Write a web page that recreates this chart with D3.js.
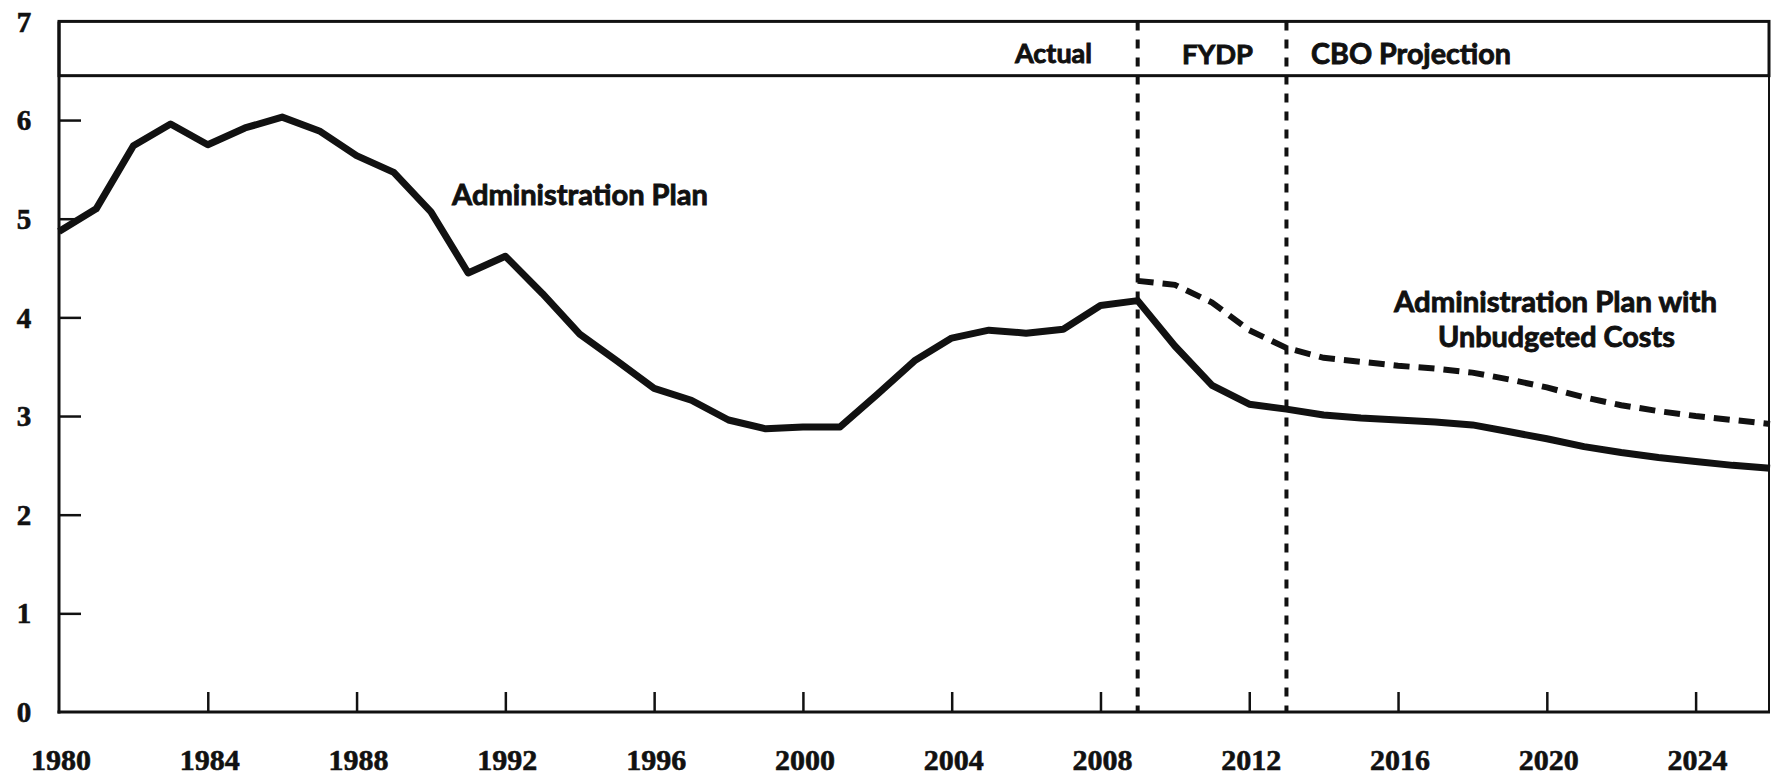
<!DOCTYPE html>
<html>
<head>
<meta charset="utf-8">
<script src="https://cdn.jsdelivr.net/npm/d3@7"></script>
<style>
  html, body { margin: 0; padding: 0; background: #fff; }
  svg { display: block; }
</style>
</head>
<body>
<svg id="chart" width="1772" height="775"></svg>
<script>
// ---------------- DATA ----------------
const years = d3.range(1980, 2027);
const adminPlan = [
  4.87, 5.10, 5.74, 5.96, 5.75, 5.92, 6.03, 5.89, 5.64, 5.47,
  5.07, 4.45, 4.62, 4.24, 3.83, 3.56, 3.28, 3.16, 2.96, 2.87,
  2.89, 2.89, 3.22, 3.56, 3.79, 3.87, 3.84, 3.88, 4.12, 4.17,
  3.71, 3.31, 3.12, 3.07, 3.01, 2.98, 2.96, 2.94, 2.91, 2.84,
  2.77, 2.69, 2.63, 2.58, 2.54, 2.50, 2.47
];
const unbudgetedYears = d3.range(2009, 2027);
const adminPlanUnbudgeted = [
  4.37, 4.33, 4.15, 3.87, 3.69, 3.59, 3.55, 3.51, 3.48, 3.44,
  3.37, 3.29, 3.19, 3.11, 3.05, 3.00, 2.96, 2.92
];
const xTickYears = [1980, 1984, 1988, 1992, 1996, 2000, 2004, 2008, 2012, 2016, 2020, 2024];
const yTickValues = [0, 1, 2, 3, 4, 5, 6, 7];
const periodBreaks = [2009, 2013];
const periodLabels = ["Actual", "FYDP", "CBO Projection"];
const bandBottomValue = 6.45;

// ---------------- LAYOUT ----------------
const svg = d3.select("#chart");
const x = d3.scaleLinear().domain([1980, 2026]).range([59, 1770]);
const y = d3.scaleLinear().domain([0, 7]).range([712, 21.4]);
const ink = "#111";
const numFont = "'Liberation Serif', 'DejaVu Serif', serif";
const labFont = "Lato, 'Open Sans', 'DejaVu Sans', sans-serif";

function fit(sel, target) {
  const w = sel.node().getComputedTextLength();
  const fs = parseFloat(sel.attr("font-size"));
  sel.attr("font-size", (fs * target / w).toFixed(2));
}

// header band
svg.append("rect")
  .attr("x", x(1980)).attr("y", y(7))
  .attr("width", x(2026) - x(1980) - 1)
  .attr("height", y(bandBottomValue) - y(7))
  .attr("fill", "none").attr("stroke", ink).attr("stroke-width", 3);

// right frame
svg.append("line")
  .attr("x1", x(2026) - 1).attr("x2", x(2026) - 1)
  .attr("y1", y(7)).attr("y2", y(0))
  .attr("stroke", ink).attr("stroke-width", 2);

// y axis
const yAxis = d3.axisRight(y).tickValues(yTickValues.filter(v => v > 0 && v < 7))
  .tickSize(22).tickFormat("");
const gy = svg.append("g").attr("transform", `translate(${x(1980)},0)`).call(yAxis);
gy.select(".domain").remove();
gy.selectAll(".tick line").attr("stroke", ink).attr("stroke-width", 2.5);

svg.append("line")
  .attr("x1", x(1980)).attr("x2", x(1980))
  .attr("y1", y(7)).attr("y2", y(0) + 1.5)
  .attr("stroke", ink).attr("stroke-width", 3);

svg.selectAll("text.ylab").data(yTickValues).join("text")
  .attr("class", "ylab")
  .attr("x", 24).attr("y", d => y(d))
  .attr("dy", "0.35em")
  .attr("text-anchor", "middle")
  .attr("font-family", numFont).attr("font-weight", "bold")
  .attr("font-size", 29).attr("fill", ink)
  .attr("stroke", ink).attr("stroke-width", 0.6)
  .text(d => d);

// x axis
const xAxis = d3.axisTop(x).tickValues(xTickYears.filter(v => v > 1980))
  .tickSize(20).tickFormat("");
const gx = svg.append("g").attr("transform", `translate(0,${y(0)})`).call(xAxis);
gx.select(".domain").remove();
gx.selectAll(".tick line").attr("stroke", ink).attr("stroke-width", 2.5);

svg.append("line")
  .attr("x1", x(1980) - 1.5).attr("x2", x(2026))
  .attr("y1", y(0)).attr("y2", y(0))
  .attr("stroke", ink).attr("stroke-width", 3);

svg.selectAll("text.xlab").data(xTickYears).join("text")
  .attr("class", "xlab")
  .attr("x", d => x(d) + 2).attr("y", 759)
  .attr("dy", "0.35em")
  .attr("text-anchor", "middle")
  .attr("font-family", numFont).attr("font-weight", "bold")
  .attr("font-size", 30).attr("fill", ink)
  .attr("stroke", ink).attr("stroke-width", 0.6)
  .text(d => d);

// period separators
svg.selectAll("line.sep").data(periodBreaks).join("line")
  .attr("class", "sep")
  .attr("x1", d => x(d)).attr("x2", d => x(d))
  .attr("y1", y(7)).attr("y2", y(0))
  .attr("stroke", ink).attr("stroke-width", 4)
  .attr("stroke-dasharray", "9,9");

// period labels
const periodPos = [[1015, 1092], [1182, 1253], [1311, 1511]];
periodLabels.forEach((t, i) => {
  const s = svg.append("text")
    .attr("x", periodPos[i][0]).attr("y", 54)
    .attr("dy", "0.35em")
    .attr("font-family", labFont).attr("font-weight", "bold")
    .attr("font-size", 28).attr("fill", ink)
    .attr("stroke", ink).attr("stroke-width", 0.9)
    .text(t);
  fit(s, periodPos[i][1] - periodPos[i][0]);
});

// lines
const line = d3.line().x(d => x(d[0])).y(d => y(d[1]));
svg.append("path")
  .datum(years.map((yr, i) => [yr, adminPlan[i]]))
  .attr("d", line)
  .attr("fill", "none").attr("stroke", ink)
  .attr("stroke-width", 7).attr("stroke-linejoin", "round");

svg.append("path")
  .datum(unbudgetedYears.map((yr, i) => [yr, adminPlanUnbudgeted[i]]))
  .attr("d", line)
  .attr("fill", "none").attr("stroke", ink)
  .attr("stroke-width", 6).attr("stroke-dasharray", "16,9");

// annotations
const notes = [
  { t: "Administration Plan", x0: 452, x1: 708, cy: 195 },
  { t: "Administration Plan with", x0: 1394, x1: 1717, cy: 302 },
  { t: "Unbudgeted Costs", x0: 1438, x1: 1675, cy: 337 }
];
notes.forEach(n => {
  const s = svg.append("text")
    .attr("x", n.x0).attr("y", n.cy).attr("dy", "0.35em")
    .attr("font-family", labFont).attr("font-weight", "bold")
    .attr("font-size", 28).attr("fill", ink)
    .attr("stroke", ink).attr("stroke-width", 0.9)
    .text(n.t);
  fit(s, n.x1 - n.x0);
});
</script>
</body>
</html>
